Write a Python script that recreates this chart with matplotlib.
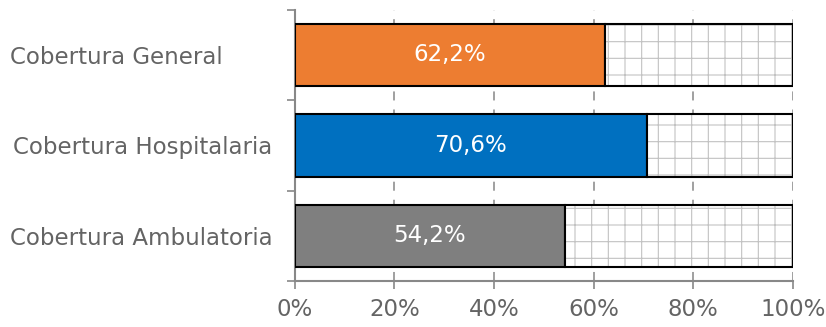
import matplotlib.pyplot as plt
import matplotlib.transforms as mtransforms
import numpy as np

# datos
categorias = ['Cobertura General', 'Cobertura Hospitalaria', 'Cobertura Ambulatoria']
cobertura = [62.2, 70.6, 54.2]
colores = ['#ED7D31', '#0070C0', '#7F7F7F']
etiquetas = ['62,2%', '70,6%', '54,2%']
xticks = [0, 20, 40, 60, 80, 100]

plt.rcParams['font.family'] = ['DejaVu Sans']
plt.rcParams['hatch.linewidth'] = 0.8

fig = plt.figure(figsize=(8.26, 3.27), dpi=100)
ax = fig.add_axes([0.357, 0.141, 0.603, 0.829])

y = np.arange(len(categorias))[::-1]
h = 0.69
resto = [100 - v for v in cobertura]

ax.barh(y, cobertura, height=h, color=colores, edgecolor='black', linewidth=1.5, zorder=3)
# parte restante: trama gris y borde negro aparte
ax.barh(y, resto, left=cobertura, height=h, color='white', edgecolor='#c2c2c2',
        linewidth=0, hatch='+', zorder=3)
ax.barh(y, resto, left=cobertura, height=h, fill=False, edgecolor='black',
        linewidth=1.5, zorder=4)

for yi, v, t in zip(y, cobertura, etiquetas):
    ax.text(v / 2, yi, t, color='white', fontsize=16.5, ha='center', va='center', zorder=5)

ax.set_xlim(0, 100)
ax.set_ylim(-0.5, 2.5)
ax.set_xticks(xticks)
ax.set_xticklabels([f'{v}%' for v in xticks])
ax.set_yticks(y)
ax.set_yticklabels(categorias)
ax.set_yticks([-0.5, 0.5, 1.5, 2.5], minor=True)

ax.tick_params(axis='y', which='major', length=0, pad=16, labelsize=16.5, labelcolor='#646464')
ax.tick_params(axis='y', which='minor', length=6, width=1.2, color='#888888')
ax.tick_params(axis='x', length=6, width=1.2, color='#888888', labelsize=16.5,
               labelcolor='#646464', pad=6)

# la etiqueta de General esta mas a la izquierda
lab = ax.get_yticklabels()[0]
lab.set_transform(lab.get_transform() + mtransforms.ScaledTranslation(-0.5, 0, fig.dpi_scale_trans))

ax.grid(axis='x', color='#999999', linestyle=(0, (5, 5)), linewidth=1.3, zorder=0)
for s in ['top', 'right']:
    ax.spines[s].set_visible(False)
for s in ['left', 'bottom']:
    ax.spines[s].set_color('#888888')
    ax.spines[s].set_linewidth(1.5)

plt.savefig('out.png', dpi=100)
